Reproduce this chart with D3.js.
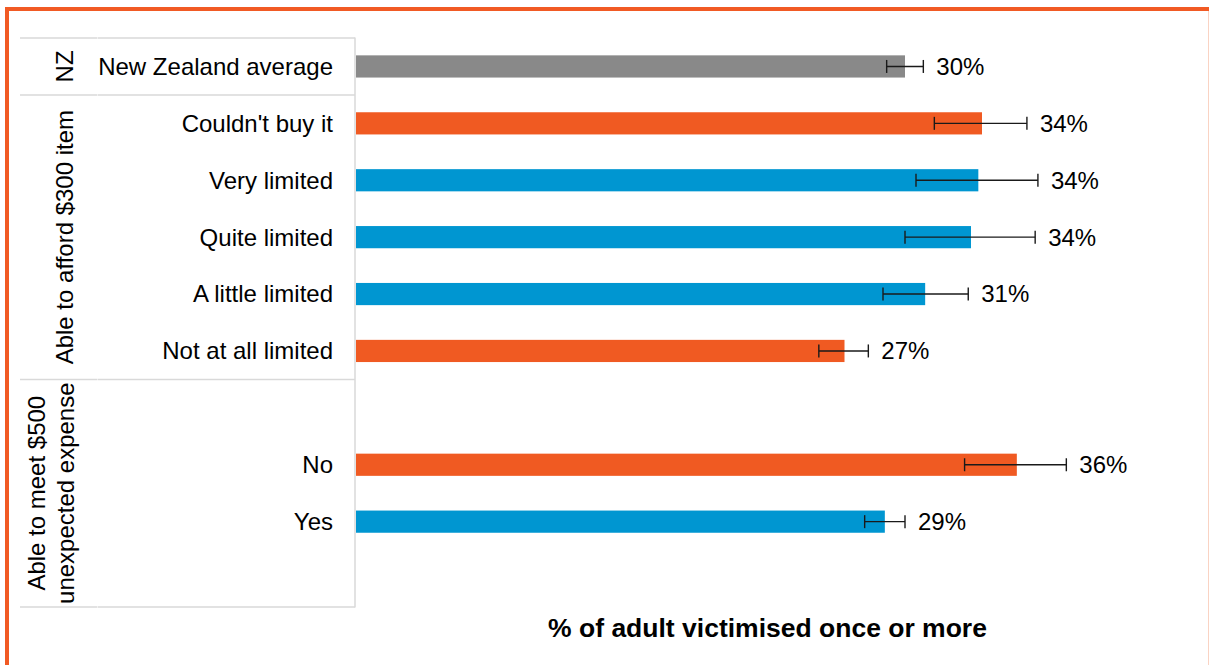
<!DOCTYPE html>
<html>
<head>
<meta charset="utf-8">
<script src="https://cdn.jsdelivr.net/npm/d3@7"></script>
<style>
  html, body { margin: 0; padding: 0; background: #fff; }
  svg { display: block; font-family: "Liberation Sans", Arial, sans-serif; }
</style>
</head>
<body>
<svg id="chart" width="1209" height="665"></svg>
<script>
// ---- data ----
const categories = ["New Zealand average", "Couldn't buy it", "Very limited", "Quite limited",
                    "A little limited", "Not at all limited", "No", "Yes"];
const values   = [30.0, 34.2, 34.0, 33.6, 31.1, 26.7, 36.1, 28.9];
const errLow   = [29.0, 31.6, 30.6, 30.0, 28.8, 25.3, 33.25, 27.8];
const errHigh  = [31.0, 36.65, 37.25, 37.1, 33.45, 28.0, 38.8, 30.0];
const valueLabels = ["30%", "34%", "34%", "34%", "31%", "27%", "36%", "29%"];
const colorKeys = ["average", "different", "similar", "similar", "similar", "different", "different", "similar"];
const groupNames = [["NZ"], ["Able to afford $300 item"], ["Able to meet $500", "unexpected expense"]];
const groupMembers = [["New Zealand average"],
                      ["Couldn't buy it", "Very limited", "Quite limited", "A little limited", "Not at all limited"],
                      ["_gapA", "No", "Yes", "_gapB"]];
const axisTitle = "% of adult victimised once or more";

// ---- setup ----
const svg = d3.select("#chart");
const W = 1209, H = 665;
const orange = "#F15A24";
const colors = { average: "#898989", different: "#F05A22", similar: "#0096D1" };
const gridCol = "#D9D9D9";

// frame
svg.append("rect").attr("x", 7).attr("y", 9).attr("width", 1205).attr("height", H)
  .attr("fill", "none").attr("stroke", orange).attr("stroke-width", 4);
svg.append("line").attr("x1", 1208.5).attr("x2", 1208.5).attr("y1", 11).attr("y2", H)
  .attr("stroke", "#FAD3C3").attr("stroke-width", 1);

const slots = groupMembers.flat();
const y = d3.scaleBand().domain(slots).range([38, 607]).paddingInner(0.61).paddingOuter(0.305);
const x = d3.scaleLinear().domain([0, 45]).range([355, 1180]);
const cellTop = k => y(k) - y.paddingOuter() * y.step();

// table lines
const boundaries = [38];
groupMembers.forEach(g => {
  const last = g[g.length - 1];
  boundaries.push(cellTop(last) + y.step());
});
const tbl = svg.append("g");
boundaries.forEach(b => {
  tbl.append("line").attr("x1", 20).attr("x2", 97).attr("y1", b).attr("y2", b)
    .attr("stroke", gridCol).attr("stroke-width", 1.5);
  tbl.append("line").attr("x1", 97.5).attr("x2", 355).attr("y1", b).attr("y2", b)
    .attr("stroke", gridCol).attr("stroke-width", 1.5);
});
tbl.append("line").attr("x1", 355).attr("x2", 355).attr("y1", 37.5).attr("y2", 607.5)
  .attr("stroke", gridCol).attr("stroke-width", 1.5);

// group labels (rotated)
groupMembers.forEach((g, i) => {
  const top = cellTop(g[0]);
  const bottom = cellTop(g[g.length - 1]) + y.step();
  const cy = (top + bottom) / 2;
  const lines = groupNames[i];
  const baselines = lines.length === 1 ? [73] : [44.5, 74];
  lines.forEach((t, j) => {
    svg.append("text")
      .attr("transform", `translate(${baselines[j]},${cy}) rotate(-90)`)
      .attr("text-anchor", "middle")
      .attr("font-size", 24)
      .attr("fill", "#000")
      .text(t);
  });
});

// category labels
svg.append("g").selectAll("text").data(categories).join("text")
  .attr("x", 333)
  .attr("y", d => y(d) + y.bandwidth() / 2)
  .attr("dy", "0.35em")
  .attr("text-anchor", "end")
  .attr("font-size", 24)
  .attr("fill", "#000")
  .text(d => d);

// bars
const rows = categories.map((c, i) => ({ c, v: values[i], lo: errLow[i], hi: errHigh[i], lab: valueLabels[i], col: colors[colorKeys[i]] }));
svg.append("g").selectAll("rect").data(rows).join("rect")
  .attr("x", x(0) + 1)
  .attr("y", d => y(d.c))
  .attr("width", d => x(d.v) - x(0) - 1)
  .attr("height", y.bandwidth())
  .attr("fill", d => d.col);

// error bars
const eb = svg.append("g").attr("stroke", "#1a1a1a").attr("stroke-width", 1.4);
rows.forEach(d => {
  const cy = y(d.c) + y.bandwidth() / 2;
  eb.append("line").attr("x1", x(d.lo)).attr("x2", x(d.hi)).attr("y1", cy).attr("y2", cy);
  eb.append("line").attr("x1", x(d.lo)).attr("x2", x(d.lo)).attr("y1", cy - 6.5).attr("y2", cy + 6.5);
  eb.append("line").attr("x1", x(d.hi)).attr("x2", x(d.hi)).attr("y1", cy - 6.5).attr("y2", cy + 6.5);
});

// value labels
svg.append("g").selectAll("text").data(rows).join("text")
  .attr("x", d => x(d.hi) + 13)
  .attr("y", d => y(d.c) + y.bandwidth() / 2)
  .attr("dy", "0.35em")
  .attr("font-size", 24)
  .attr("fill", "#000")
  .text(d => d.lab);

// axis title
svg.append("text")
  .attr("x", (x.range()[0] + x.range()[1]) / 2)
  .attr("y", 637)
  .attr("text-anchor", "middle")
  .attr("font-size", 26.5)
  .attr("font-weight", "bold")
  .attr("fill", "#000")
  .text(axisTitle);
</script>
</body>
</html>
